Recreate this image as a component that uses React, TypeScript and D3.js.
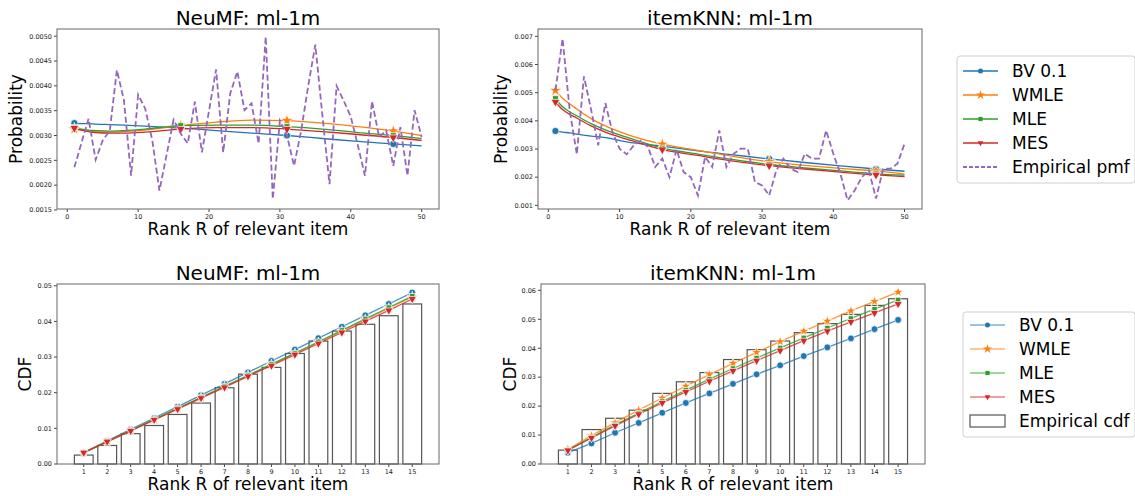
import React, { useEffect, useRef } from 'react';
import * as d3 from 'd3';

const seriesNames = ['BV 0.1', 'WMLE', 'MLE', 'MES'];
const colors = ['#1f77b4', '#ff7f0e', '#2ca02c', '#d62728'];
const pmfColor = '#9467bd';

const empiricalRanks = d3.range(1, 51);
const fitRanks = [1, 2, 3, 4, 6, 8, 11, 16, 21, 26, 31, 36, 41, 46, 50];
const markerRanks = [1, 16, 31, 46];
const cdfRanks = d3.range(1, 16);

// NeuMF pmf
const neumfEmpirical = [0.00236, 0.00285, 0.00334, 0.00251, 0.0029, 0.0031, 0.00432, 0.00371, 0.00219, 0.00382,
  0.00354, 0.0029, 0.00189, 0.0026, 0.00332, 0.00304, 0.00284, 0.00368, 0.00266, 0.0035,
  0.00433, 0.00266, 0.00385, 0.00429, 0.00351, 0.00365, 0.00284, 0.00499, 0.00172, 0.0033,
  0.0030, 0.00239, 0.0031, 0.0040, 0.00483, 0.0034, 0.00202, 0.0040, 0.0037, 0.00338,
  0.0028, 0.00219, 0.00369, 0.00297, 0.0031, 0.00239, 0.00317, 0.00219, 0.00351, 0.00297];
const neumfBV = [0.00325, 0.00324, 0.00324, 0.00323, 0.00322, 0.00321, 0.00319, 0.00315, 0.0031, 0.00305, 0.003, 0.00294, 0.00288, 0.00283, 0.00279];
const neumfWMLE = [0.00313, 0.00311, 0.00309, 0.00308, 0.00307, 0.00308, 0.00311, 0.0032, 0.00327, 0.00331, 0.0033, 0.00325, 0.00318, 0.00309, 0.003];
const neumfMLE = [0.00316, 0.00313, 0.00311, 0.0031, 0.00309, 0.0031, 0.00313, 0.0032, 0.00321, 0.00321, 0.00318, 0.00313, 0.00306, 0.003, 0.00294];
const neumfMES = [0.00315, 0.00311, 0.00308, 0.00306, 0.00305, 0.00305, 0.00307, 0.00313, 0.00316, 0.00316, 0.00313, 0.00308, 0.00302, 0.00296, 0.0029];

// itemKNN pmf
const knnEmpirical = [0.00508, 0.00692, 0.00437, 0.00281, 0.00558, 0.0044, 0.00313, 0.00463, 0.0036, 0.00301,
  0.00281, 0.00313, 0.0033, 0.00307, 0.00236, 0.00266, 0.002, 0.00298, 0.00218, 0.002,
  0.00135, 0.00272, 0.00236, 0.00366, 0.00236, 0.00283, 0.00301, 0.00301, 0.00183, 0.00171,
  0.00135, 0.00224, 0.00266, 0.0023, 0.00218, 0.00283, 0.00266, 0.00266, 0.00366, 0.00283,
  0.00212, 0.00118, 0.00153, 0.002, 0.00224, 0.00124, 0.0023, 0.0023, 0.00248, 0.00319];
const knnBV = [0.00364, 0.0036, 0.00357, 0.00353, 0.00346, 0.0034, 0.00325, 0.0031, 0.00293, 0.00279, 0.00265, 0.00252, 0.0024, 0.00229, 0.00221];
const knnWMLE = [0.00508, 0.0048, 0.0046, 0.00442, 0.00408, 0.00382, 0.00352, 0.00317, 0.00295, 0.00274, 0.00255, 0.00242, 0.00231, 0.00222, 0.00211];
const knnMLE = [0.00479, 0.0045, 0.00432, 0.00418, 0.0039, 0.00368, 0.00342, 0.00303, 0.00282, 0.00262, 0.00245, 0.00233, 0.00222, 0.00212, 0.00207];
const knnMES = [0.00467, 0.0044, 0.00423, 0.0041, 0.00382, 0.0036, 0.00335, 0.00298, 0.00277, 0.00257, 0.00241, 0.00229, 0.00218, 0.00208, 0.00202];

// NeuMF cdf
const neumfCdfEmp = [0.0025, 0.0052, 0.0085, 0.0108, 0.0139, 0.0171, 0.0214, 0.0252, 0.0271, 0.031, 0.0345, 0.0373, 0.0392, 0.0416, 0.0449];
const neumfCdfBV = [0.0032, 0.0065, 0.0097, 0.0129, 0.0161, 0.0193, 0.0225, 0.0257, 0.0289, 0.0321, 0.0353, 0.0385, 0.0417, 0.0449, 0.0481];
const neumfCdfWMLE = [0.0031, 0.0062, 0.0093, 0.0124, 0.0155, 0.0186, 0.0217, 0.0248, 0.0279, 0.031, 0.0341, 0.0373, 0.0405, 0.0437, 0.0469];
const neumfCdfMLE = [0.0032, 0.0063, 0.0094, 0.0125, 0.0156, 0.0187, 0.0218, 0.0249, 0.028, 0.0311, 0.0343, 0.0375, 0.0407, 0.0439, 0.0471];
const neumfCdfMES = [0.0032, 0.0063, 0.0093, 0.0124, 0.0154, 0.0185, 0.0215, 0.0246, 0.0276, 0.0307, 0.0338, 0.0369, 0.04, 0.0431, 0.0463];

// itemKNN cdf
const knnCdfEmp = [0.0048, 0.0119, 0.0158, 0.0186, 0.0244, 0.0284, 0.0316, 0.0361, 0.0395, 0.0425, 0.0454, 0.0485, 0.0517, 0.0548, 0.0571];
const knnCdfBV = [0.0039, 0.0071, 0.0108, 0.0142, 0.0177, 0.0211, 0.0244, 0.0277, 0.031, 0.0341, 0.0373, 0.0403, 0.0434, 0.0466, 0.0498];
const knnCdfWMLE = [0.0051, 0.0098, 0.0143, 0.0186, 0.0228, 0.0269, 0.0309, 0.0348, 0.0386, 0.0423, 0.0459, 0.0494, 0.0529, 0.0562, 0.0594];
const knnCdfMLE = [0.0048, 0.0092, 0.0135, 0.0176, 0.0216, 0.0255, 0.0293, 0.033, 0.0366, 0.0401, 0.0436, 0.047, 0.0503, 0.0535, 0.0567];
const knnCdfMES = [0.0047, 0.009, 0.0132, 0.0172, 0.0211, 0.0249, 0.0286, 0.0322, 0.0357, 0.0392, 0.0426, 0.0459, 0.0491, 0.0522, 0.0553];

const pmfTicksNeumf = [0.0015, 0.002, 0.0025, 0.003, 0.0035, 0.004, 0.0045, 0.005];
const pmfTicksKnn = [0.001, 0.002, 0.003, 0.004, 0.005, 0.006, 0.007];
const cdfTicksNeumf = [0, 0.01, 0.02, 0.03, 0.04, 0.05];
const cdfTicksKnn = [0, 0.01, 0.02, 0.03, 0.04, 0.05, 0.06];
const pmfXTicks = [0, 10, 20, 30, 40, 50];

const FONT = 'DejaVu Sans, sans-serif';
const symbols = [d3.symbolCircle, d3.symbolStar, d3.symbolSquare, d3.symbolTriangle];

function marker(sel, i, size, x, y) {
  sel.append('path')
    .attr('d', d3.symbol(symbols[i], size)())
    .attr('transform', `translate(${x},${y})` + (i === 3 ? ' rotate(180)' : ''))
    .attr('fill', colors[i])
    .attr('stroke', '#fff')
    .attr('stroke-width', 0.7);
}

function frame(svg, box, title, ylab, ylabX, x, y, xTicks, yTicks, yFmt) {
  const g = svg.append('g').attr('font-family', FONT);
  g.append('text').attr('x', (box.l + box.r) / 2).attr('y', box.t - 4)
    .attr('text-anchor', 'middle').attr('font-size', 20).text(title);
  g.append('text').attr('x', (box.l + box.r) / 2).attr('y', box.b + 26)
    .attr('text-anchor', 'middle').attr('font-size', 17).text('Rank R of relevant item');
  g.append('text').attr('transform', `translate(${ylabX},${(box.t + box.b) / 2}) rotate(-90)`)
    .attr('text-anchor', 'middle').attr('font-size', 17).text(ylab);

  xTicks.forEach(t => {
    g.append('line').attr('x1', x(t)).attr('x2', x(t)).attr('y1', box.b).attr('y2', box.b + 3).attr('stroke', '#444');
    g.append('text').attr('x', x(t)).attr('y', box.b + 10).attr('text-anchor', 'middle')
      .attr('font-size', 6.5).attr('fill', '#222').text(t);
  });
  yTicks.forEach(t => {
    g.append('line').attr('x1', box.l - 3).attr('x2', box.l).attr('y1', y(t)).attr('y2', y(t)).attr('stroke', '#444');
    g.append('text').attr('x', box.l - 5).attr('y', y(t) + 2.3).attr('text-anchor', 'end')
      .attr('font-size', 6.5).attr('fill', '#222').text(yFmt(t));
  });
}

function border(svg, box) {
  svg.append('rect').attr('x', box.l).attr('y', box.t).attr('width', box.r - box.l).attr('height', box.b - box.t)
    .attr('fill', 'none').attr('stroke', '#666').attr('stroke-width', 1);
}

function pmfPanel(svg, box, title, domain, ticks, fmt, empirical, fits, ylabX) {
  const x = d3.scaleLinear().domain([-1.45, 52.45]).range([box.l, box.r]);
  const y = d3.scaleLinear().domain(domain).range([box.b, box.t]);
  svg.append('rect').attr('x', box.l).attr('y', box.t).attr('width', box.r - box.l).attr('height', box.b - box.t).attr('fill', '#fff');
  frame(svg, box, title, 'Probability', ylabX, x, y, pmfXTicks, ticks, fmt);

  const line = d3.line().x(d => x(d[0])).y(d => y(d[1])).curve(d3.curveMonotoneX);
  fits.forEach((vals, i) => {
    const pts = fitRanks.map((r, k) => [r, vals[k]]);
    svg.append('path').attr('d', line(pts)).attr('fill', 'none').attr('stroke', colors[i]).attr('stroke-width', 1.3);
  });
  fits.forEach((vals, i) => {
    markerRanks.forEach(r => {
      const k = fitRanks.indexOf(r);
      marker(svg, i, [40, 48, 34, 34][i], x(r), y(vals[k]));
    });
  });
  const eline = d3.line().x((d, k) => x(empiricalRanks[k])).y(d => y(d));
  svg.append('path').attr('d', eline(empirical)).attr('fill', 'none').attr('stroke', pmfColor)
    .attr('stroke-width', 1.8).attr('stroke-dasharray', '6,3');
  border(svg, box);
}

function cdfPanel(svg, box, title, domain, ticks, emp, fits, ylabX) {
  const x = d3.scaleLinear().domain([-0.14, 16.14]).range([box.l, box.r]);
  const y = d3.scaleLinear().domain(domain).range([box.b, box.t]);
  svg.append('rect').attr('x', box.l).attr('y', box.t).attr('width', box.r - box.l).attr('height', box.b - box.t).attr('fill', '#fff');
  frame(svg, box, title, 'CDF', ylabX, x, y, cdfRanks, ticks, d => d3.format('.2f')(d));

  svg.append('g').selectAll('rect').data(emp).join('rect')
    .attr('x', (d, k) => x(cdfRanks[k] - 0.4))
    .attr('width', x(0.8) - x(0))
    .attr('y', d => y(d))
    .attr('height', d => y(0) - y(d))
    .attr('fill', '#fff').attr('stroke', '#555').attr('stroke-width', 1.2);

  const line = d3.line().x((d, k) => x(cdfRanks[k])).y(d => y(d));
  fits.forEach((vals, i) => {
    svg.append('path').attr('d', line(vals)).attr('fill', 'none').attr('stroke', colors[i])
      .attr('stroke-width', 1.3).attr('stroke-opacity', 0.8);
    vals.forEach((v, k) => marker(svg, i, [36, 34, 28, 30][i], x(cdfRanks[k]), y(v)));
  });
  border(svg, box);
}

function legend(svg, box, last, rows) {
  const g = svg.append('g').attr('font-family', FONT);
  g.append('rect').attr('x', box.l).attr('y', box.t).attr('width', box.w).attr('height', box.h)
    .attr('rx', 3).attr('fill', '#fff').attr('stroke', '#d0d0d0');
  rows.forEach((ry, i) => {
    const hx0 = box.hx, hx1 = box.hx + 35;
    if (i < 4) {
      g.append('line').attr('x1', hx0).attr('x2', hx1).attr('y1', ry).attr('y2', ry)
        .attr('stroke', colors[i]).attr('stroke-width', 1.3).attr('stroke-opacity', box.alpha);
      g.append('path').attr('d', d3.symbol(symbols[i], [20, 26, 18, 14][i])())
        .attr('transform', `translate(${(hx0 + hx1) / 2},${ry})` + (i === 3 ? ' rotate(180)' : ''))
        .attr('fill', colors[i]);
    } else if (last === 'pmf') {
      g.append('line').attr('x1', hx0).attr('x2', hx1).attr('y1', ry).attr('y2', ry)
        .attr('stroke', pmfColor).attr('stroke-width', 1.8).attr('stroke-dasharray', '4,2');
    } else {
      g.append('rect').attr('x', hx0).attr('y', ry - 6).attr('width', 35).attr('height', 12)
        .attr('fill', '#fff').attr('stroke', '#555').attr('stroke-width', 1.2);
    }
    g.append('text').attr('x', box.tx).attr('y', ry + 6).attr('font-size', 17)
      .text(i < 4 ? seriesNames[i] : (last === 'pmf' ? 'Empirical pmf' : 'Empirical cdf'));
  });
}

export default function App() {
  const svgRef = useRef(null);

  useEffect(() => {
    const svg = d3.select(svgRef.current);
    svg.selectAll('*').remove();

    pmfPanel(svg, { l: 57, r: 439, t: 29, b: 209 }, 'NeuMF: ml-1m', [0.00152, 0.005145], pmfTicksNeumf,
      d => d3.format('.4f')(d), neumfEmpirical, [neumfBV, neumfWMLE, neumfMLE, neumfMES], 22);
    pmfPanel(svg, { l: 538, r: 922, t: 29, b: 209 }, 'itemKNN: ml-1m', [0.00087, 0.00726], pmfTicksKnn,
      d => d3.format('.3f')(d), knnEmpirical, [knnBV, knnWMLE, knnMLE, knnMES], 507);
    cdfPanel(svg, { l: 57, r: 439, t: 284, b: 464 }, 'NeuMF: ml-1m', [0, 0.0505], cdfTicksNeumf,
      neumfCdfEmp, [neumfCdfBV, neumfCdfWMLE, neumfCdfMLE, neumfCdfMES], 31);
    cdfPanel(svg, { l: 541, r: 925, t: 284, b: 464 }, 'itemKNN: ml-1m', [0, 0.0622], cdfTicksKnn,
      knnCdfEmp, [knnCdfBV, knnCdfWMLE, knnCdfMLE, knnCdfMES], 516);

    legend(svg, { l: 957, t: 56, w: 178, h: 127, hx: 963, tx: 1012, alpha: 1 }, 'pmf', [71, 95, 119, 143, 167]);
    legend(svg, { l: 963, t: 312, w: 172, h: 125, hx: 970, tx: 1019, alpha: 0.6 }, 'cdf', [325, 349, 373, 397, 421]);
  }, []);

  return (
    <svg ref={svgRef} width={1135} height={496}
      style={{ position: 'absolute', left: 0, top: 0, background: '#fff' }} />
  );
}
